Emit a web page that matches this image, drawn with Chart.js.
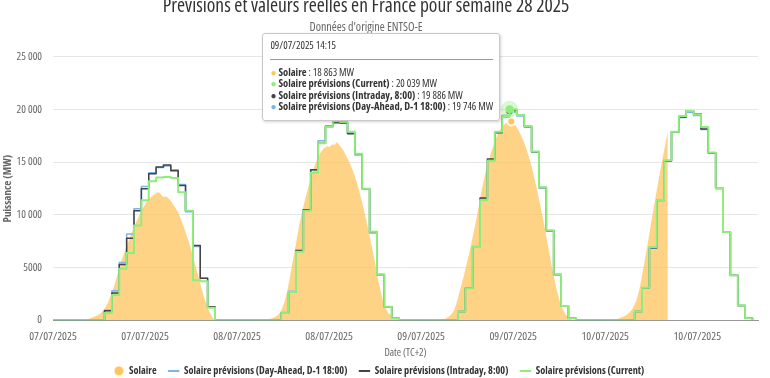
<!DOCTYPE html>
<html lang="fr">
<head>
<meta charset="utf-8">
<script src="https://cdn.jsdelivr.net/npm/chart.js@4.4.1/dist/chart.umd.min.js"></script>
<style>
  html, body { margin: 0; padding: 0; background: #ffffff; }
  #cadre { position: relative; width: 770px; height: 378px; overflow: hidden; }
  #bulle {
    position: absolute; display: none; white-space: nowrap;
    background: rgba(255,255,255,0.96); border: 1px solid #c8c8c8; border-radius: 3px;
    box-shadow: 1px 1px 3px rgba(0,0,0,0.18);
    padding: 5px 6px 7px 7px; color: #333333;
    font-family: 'Open Sans', sans-serif; font-stretch: condensed; font-size: 10.5px; font-weight: normal;
  }
  #bulle .titre { line-height: 12px; }
  #bulle .sep { border-top: 1px solid #9a9a9a; margin: 8px 0 7px 0; }
  #bulle .ligne { line-height: 11.4px; }
  #bulle .pt { font-size: 10px; margin-right: 2px; }
  #bulle b { font-weight: bold; }
</style>
</head>
<body>
<div id="cadre">
  <canvas id="graphique" width="770" height="378"></canvas>
  <div id="bulle"></div>
</div>
<script>
// ---------------- Données ----------------
const titre = 'Prévisions et valeurs réelles en France pour semaine 28 2025';
const sousTitre = "Données d'origine ENTSO-E";
const titreAxeX = 'Date (TC+2)';
const titreAxeY = 'Puissance (MW)';

const debut = { annee: 2025, mois: 7, jour: 7 };   // 07/07/2025 00:00 (TC+2)

const nomSolaire = 'Solaire';
const nomDayAhead = 'Solaire prévisions (Day-Ahead, D-1 18:00)';
const nomIntraday = 'Solaire prévisions (Intraday, 8:00)';
const nomCurrent = 'Solaire prévisions (Current)';

// Production réelle, valeurs au quart d'heure (MW), chaque liste commence à 04:00
const solaireHeureDebut = 4;
const solaireJ1 = [0,20,60,110, 170,240,310,380, 460,560,700,880, 1100,1400,1750,2200,
  2650,3150,3700,4300, 4950,5550,6050,6550, 7050,7500,7950,8400, 8850,9250,9650,10000,
  10350,10700,11000,11300, 11500,11650,11800,11950, 12050,12150,12100,11850, 11700,11750,11700,11550,
  11350,11100,10800,10550, 10200,9800,9350,8900, 8350,7850,7350,6750, 6100,5450,4800,4150,
  3500,2850,2250,1700, 1200,800,450,200, 80,20,0,0];
const solaireJ2 = [0,0,20,40, 70,110,150,200, 260,350,480,680, 950,1350,1900,2600,
  3450,4400,5400,6350, 7300,8300,9250,10050, 10800,11500,12150,12800, 13450,14050,14600,15050,
  15450,15800,16100,16300, 16400,16550,16450,16600, 16700,16650,16900,16750, 16550,16300,16050,15700,
  15350,15000,14600,14150, 13650,13100,12500,11850, 11150,10400,9650,8850, 8000,7150,6300,5400,
  4500,3600,2750,2000, 1450,1050,750,550, 420,340,270,210, 160,120,80,40];
const solaireJ3 = [0,10,30,60, 100,160,240,350, 500,700,1000,1500, 2100,2800,3450,4100,
  4800,5550,6300,7100, 7900,8750,9650,10550, 11550,12450,13300,14050, 14700,15300,15900,16450,
  16950,17400,17800,18100, 18350,18550,18700,18800, 18850,18863,18750,18550, 18300,18000,17650,17250,
  16850,16350,15800,15250, 14600,13900,13150,12350, 11550,10700,9800,8900, 7950,7000,6050,5100,
  4200,3400,2650,2000, 1450,1050,700,450, 280,150,70,20, 0,0,0,0];
const solaireJ4 = [0,30,80,150, 220,290,370,470, 580,720,900,1150, 1500,1950,2600,3300,
  4250,5200,6200,7200, 8250,9300,10350,11350, 12350,13350,14300,15250, 16150,17050,17950];

// Prévisions horaires (MW), 24 valeurs par jour du 07/07 au 10/07
const prevDayAhead = [
  0,0,0,0,0,0,0, 950,2800,5500,8200,10600,12700,14000,14500,14650,14300,12900,10300,7000,4000,1300,0,0,
  0,0,0,0,0,0,0, 750,2750,6700,10500,14300,17050,18450,18900,18800,17800,15700,12500,8300,4300,1300,200,0,
  0,0,0,0,0,0,0, 850,3050,7000,11500,15200,17850,19300,19746,19400,18350,15950,12550,8500,4300,1350,200,0,
  0,0,0,0,0,0,0, 830,3050,6850,11350,15100,17850,19250,19750,19450,18100,15850,12500,8350,4250,1380,200,0];
const prevIntraday = [
  0,0,0,0,0,0,0, 900,2600,5300,7800,10400,12500,13900,14550,14750,14200,12800,10400,7100,4000,1300,0,0,
  0,0,0,0,0,0,0, 700,2700,6600,10500,14300,16800,18400,18750,18700,17700,15800,12500,8400,4350,1300,200,0,
  0,0,0,0,0,0,0, 830,3040,6960,11600,15300,17800,19450,19886,19500,18400,16000,12600,8500,4350,1370,200,0,
  0,0,0,0,0,0,0, 830,3100,6900,11400,15150,17900,19300,19900,19600,18150,15900,12550,8350,4290,1400,200,0];
const prevCurrent = [
  0,0,0,0,0,0,0, 700,2400,4900,6400,9000,11400,13200,13550,13600,13500,12150,10400,3800,3700,1200,0,0,
  0,0,0,0,0,0,0, 700,2700,6500,10400,14000,16800,18350,18900,18800,17900,15800,12500,8400,4350,1300,200,0,
  0,0,0,0,0,0,0, 830,3040,6960,11430,15140,17900,19390,20039,19480,18440,16020,12620,8540,4360,1370,200,0,
  0,0,0,0,0,0,0, 830,3100,6960,11430,15200,17900,19390,19860,19550,18350,15930,12560,8380,4290,1400,200,0];

// Axes (heures depuis le 07/07/2025 00:00)
const axeXMax = 95.75;
const ticksX = [0, 12.5, 25, 37.5, 50, 62.5, 75, 87.5];
const etiquettesX = ['07/07/2025','07/07/2025','08/07/2025','08/07/2025','09/07/2025','09/07/2025','10/07/2025','10/07/2025'];
const axeYMax = 25000;
const pasY = 5000;

// Point survolé dans la référence : 09/07/2025 14:15
const survol = { jour: 2, heure: 14.25 };

// ---------------- Construction ----------------
Chart.defaults.font.family = "'Open Sans', sans-serif";
Chart.defaults.font.weight = 'condensed';          // police étroite (font-stretch)
const ETROIT = 'condensed';
const GRAS = 'condensed bold';

const joursSolaire = [solaireJ1, solaireJ2, solaireJ3, solaireJ4];
const pointsSolaire = [];
joursSolaire.forEach((vals, j) => {
  const dernier = j === joursSolaire.length - 1;
  for (let q = 0; q < 96; q++) {
    const i = q - solaireHeureDebut * 4;
    if (dernier && i >= vals.length) break;
    const v = (i >= 0 && i < vals.length) ? vals[i] : 0;
    pointsSolaire.push({ x: j * 24 + q / 4, y: v });
  }
});
const versPoints = arr => arr.map((v, h) => ({ x: h, y: v }));

const fmt = v => v >= 10000 ? String(v).replace(/\B(?=(\d{3})+(?!\d))/g, ' ') : String(v);
function libelleDate(heures) {
  const d = new Date(Date.UTC(debut.annee, debut.mois - 1, debut.jour) + Math.round(heures * 60) * 60000);
  const p = n => String(n).padStart(2, '0');
  return p(d.getUTCDate()) + '/' + p(d.getUTCMonth() + 1) + '/' + d.getUTCFullYear() + ' ' + p(d.getUTCHours()) + ':' + p(d.getUTCMinutes());
}

const ORANGE = 'rgb(255,196,92)';
const BLEU = '#7cb5ec';
const NOIR = '#434348';
const VERT = '#90ed7d';

function bulleExterne(context) {
  const { chart, tooltip } = context;
  const el = document.getElementById('bulle');
  if (!tooltip || tooltip.opacity === 0 || !tooltip.dataPoints || !tooltip.dataPoints.length) { el.style.display = 'none'; return; }
  const pts = tooltip.dataPoints;
  let html = '<div class="titre">' + libelleDate(pts[0].parsed.x) + '</div><div class="sep"></div>';
  pts.forEach(p => {
    html += '<div class="ligne"><span class="pt" style="color:' + p.dataset.couleurBulle + '">\u25CF</span><b>' +
      p.dataset.label + '</b> : ' + fmt(p.parsed.y) + ' MW</div>';
  });
  el.innerHTML = html;
  el.style.display = 'block';
  const w = el.offsetWidth;
  el.style.left = (tooltip.caretX - w - 10) + 'px';
  el.style.top = (chart.chartArea.top - 24) + 'px';
}

const pastilleSolaire = document.createElement('canvas');
pastilleSolaire.width = 10; pastilleSolaire.height = 10;
{ const c = pastilleSolaire.getContext('2d'); c.fillStyle = ORANGE; c.beginPath(); c.arc(5, 5, 4.5, 0, Math.PI * 2); c.fill(); }

const recentrerTitres = {
  id: 'recentrerTitres',
  afterLayout(chart) {
    chart.boxes.forEach(b => {
      if (b.position === 'top') { b.left = 0; b.right = 732; }
    });
  }
};

const chart = new Chart(document.getElementById('graphique'), {
  type: 'line',
  data: {
    datasets: [
      { label: nomSolaire, data: pointsSolaire, fill: 'origin', backgroundColor: 'rgba(255,196,92,0.74)',
        borderColor: 'rgba(255,196,92,0.0)', borderWidth: 0, pointRadius: 0, order: 4, couleurBulle: ORANGE,
        pointHoverRadius: 4, pointHoverBackgroundColor: ORANGE, pointHoverBorderColor: 'rgba(255,255,255,0.9)', pointHoverBorderWidth: 2 },
      { label: nomDayAhead, data: versPoints(prevDayAhead), stepped: 'before', borderColor: BLEU, backgroundColor: BLEU,
        borderWidth: 1.5, pointRadius: 0, fill: false, order: 3, clip: 0, couleurBulle: BLEU,
        pointHoverRadius: 4, pointHoverBackgroundColor: BLEU, pointHoverBorderColor: '#ffffff', pointHoverBorderWidth: 1 },
      { label: nomIntraday, data: versPoints(prevIntraday), stepped: 'before', borderColor: NOIR, backgroundColor: NOIR,
        borderWidth: 1.5, pointRadius: 0, fill: false, order: 2, clip: 0, couleurBulle: NOIR,
        pointHoverRadius: 4, pointHoverBackgroundColor: NOIR, pointHoverBorderColor: '#ffffff', pointHoverBorderWidth: 1 },
      { label: nomCurrent, data: versPoints(prevCurrent), stepped: 'before', borderColor: VERT, backgroundColor: VERT,
        borderWidth: 2, pointRadius: 0, fill: false, order: 1, clip: 0, couleurBulle: VERT,
        pointHoverRadius: 4, pointHoverBackgroundColor: VERT, pointHoverBorderColor: 'rgba(144,237,125,0.35)', pointHoverBorderWidth: 9 }
    ]
  },
  options: {
    responsive: false,
    animation: false,
    events: [],
    layout: { padding: { left: 0, right: 12, top: 0, bottom: -8 } },
    elements: { line: { borderJoinStyle: 'round', tension: 0 } },
    scales: {
      x: {
        type: 'linear', min: 0, max: axeXMax,
        afterBuildTicks: s => { s.ticks = ticksX.map(v => ({ value: v })); },
        grid: { display: false, drawTicks: false },
        border: { display: true, color: '#999999', width: 1 },
        ticks: { autoSkip: false, maxRotation: 0, padding: 9, color: '#666666', font: { size: 11.5, weight: ETROIT },
          callback: (v, i) => etiquettesX[i] },
        title: { display: true, text: titreAxeX, color: '#666666', font: { size: 10.5, weight: ETROIT }, padding: { top: -5, bottom: -6 } }
      },
      y: {
        min: 0, max: axeYMax,
        afterBuildTicks: s => { const t = []; for (let v = 0; v <= axeYMax; v += pasY) t.push({ value: v }); s.ticks = t; },
        afterFit: s => { s.width = 53; },
        grid: { color: '#e6e6e6', drawTicks: false },
        border: { display: false },
        ticks: { padding: 11, color: '#666666', font: { size: 11, weight: ETROIT }, callback: v => fmt(v) },
        title: { display: true, text: titreAxeY, color: '#666666', font: { size: 11, weight: GRAS }, padding: { top: 1, bottom: 0 } }
      }
    },
    plugins: {
      title: { display: true, text: titre, color: '#333333', font: { size: 19.5, weight: ETROIT, lineHeight: 1 }, padding: { top: -3, bottom: 4 } },
      subtitle: { display: true, text: sousTitre, color: '#666666', font: { size: 12, weight: ETROIT, lineHeight: 1.2 }, padding: { top: 0, bottom: 22 } },
      legend: {
        position: 'bottom',
        labels: {
          usePointStyle: true, boxHeight: 8, padding: 12, color: '#333333', font: { size: 10.25, weight: GRAS },
          sort: (a, b) => a.datasetIndex - b.datasetIndex,
          generateLabels: ch => {
            const items = Chart.defaults.plugins.legend.labels.generateLabels(ch);
            items.forEach(it => {
              if (it.datasetIndex === 0) { it.pointStyle = pastilleSolaire; }
              else { it.pointStyle = 'line'; it.lineWidth = 2; }
            });
            return items;
          }
        }
      },
      tooltip: { enabled: false, external: bulleExterne }
    }
  },
  plugins: [recentrerTitres]
});

// Reproduit l'état de survol de la référence
const xSurvol = survol.jour * 24 + survol.heure;
const iSolaire = pointsSolaire.findIndex(p => p.x === xSurvol);
const iPrev = Math.floor(xSurvol);
const actifs = [
  { datasetIndex: 0, index: iSolaire },
  { datasetIndex: 3, index: iPrev },
  { datasetIndex: 2, index: iPrev },
  { datasetIndex: 1, index: iPrev }
];
chart.setActiveElements(actifs);
chart.tooltip.setActiveElements(actifs, { x: 0, y: 0 });
chart.render();
</script>
</body>
</html>
